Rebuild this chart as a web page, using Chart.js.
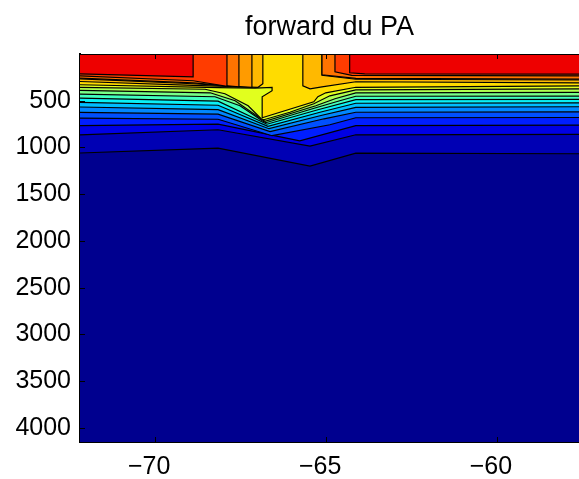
<!DOCTYPE html>
<html><head><meta charset="utf-8">
<script src="https://cdn.jsdelivr.net/npm/chart.js@4/dist/chart.umd.min.js"></script>
<style>html,body{margin:0;padding:0;background:#fff;}</style>
</head><body>
<canvas id="c" width="579" height="479"></canvas>
<script>
// ---- data (longitude, depth in m) ----
const chartTitle = 'forward du PA';
const lonRange = [-72.2, -57.6];
const depthRange = [0, 4150];
const lonTicks = [-70, -65, -60];
const depthTicks = [500, 1000, 1500, 2000, 2500, 3000, 3500, 4000];

// contour boundaries, shallowest first: [lon, depth]
const c01 = [[-72.2,212],[-68.89,244],[-68.89,0],[-64.31,0],[-64.31,201],[-63.87,212],[-57.6,215]];
const c02 = [[-72.2,233],[-68.89,286],[-67.90,345],[-67.90,0],[-64.74,0],[-64.74,190],[-64.25,228],[-57.6,233]];
const c03 = [[-72.2,258],[-68.89,308],[-67.55,351],[-67.55,0],[-65.12,0],[-65.12,222],[-64.13,260],[-57.6,268]];
const c04 = [[-72.2,267],[-68.89,318],[-67.17,356],[-67.17,0],[-65.12,0],[-65.12,228],[-64.13,270],[-57.6,278]];
const c05 = [[-72.2,294],[-68.89,335],[-66.99,356],[-66.85,318],[-66.85,0],[-65.68,0],[-65.68,340],[-65.47,372],[-65.12,351],[-64.13,297],[-57.6,308]];
const c06 = [[-72.2,329],[-68.16,359],[-67.08,364],[-66.58,356],[-66.58,393],[-66.87,457],[-66.87,682],[-65.36,511],[-65.24,457],[-65.01,415],[-64.13,356],[-57.6,340]];
const c07 = [[-72.2,358],[-68.54,377],[-67.96,425],[-67.28,554],[-66.90,693],[-66.82,703],[-66.06,623],[-65.36,532],[-64.89,447],[-64.13,383],[-57.6,372]];
const c08 = [[-72.2,390],[-68.39,415],[-67.66,500],[-66.99,671],[-66.79,719],[-66.06,639],[-65.30,554],[-64.74,479],[-64.13,415],[-57.6,411]];
const c09 = [[-72.2,429],[-68.25,457],[-67.52,554],[-66.87,714],[-66.76,735],[-65.30,575],[-64.60,500],[-64.13,452],[-57.6,450]];
const c10 = [[-72.2,471],[-68.16,505],[-66.73,751],[-65.24,596],[-64.13,489],[-57.6,486]];
const c11 = [[-72.2,518],[-68.16,548],[-66.70,773],[-65.18,623],[-64.13,527],[-57.6,522]];
const c12 = [[-72.2,567],[-68.16,596],[-66.67,799],[-65.12,655],[-64.13,570],[-57.6,564]];
const c13 = [[-72.2,625],[-68.16,644],[-66.64,831],[-65.06,693],[-64.13,623],[-57.6,618]];
const c14 = [[-72.2,685],[-68.16,698],[-66.58,874],[-64.89,757],[-64.13,682],[-57.6,679]];
const c15 = [[-72.2,767],[-68.16,751],[-65.77,928],[-64.13,767],[-57.6,760]];
const c16 = [[-72.2,864],[-68.16,810],[-65.47,986],[-64.13,864],[-57.6,860]];
const c17 = [[-72.2,1059],[-68.16,1006],[-65.47,1200],[-64.13,1061],[-57.6,1067]];

// colour of the band lying above each boundary (jet colormap)
const bandColors = ['#ee0000','#ff3c00','#ff7300','#ff9b00','#ffb900','#ffdc00','#e1ff1e','#afff50','#78ff87','#41ffbe','#0af0f5','#00beff','#0087ff','#0050ff','#001eff','#0000e4','#0000b4'];
const deepColor = '#00008f';

const contours = [c01,c02,c03,c04,c05,c06,c07,c08,c09,c10,c11,c12,c13,c14,c15,c16,c17];

const datasets = contours.map((pts, i) => ({
  data: pts.map(p => ({x: p[0], y: p[1]})),
  borderColor: '#000',
  borderWidth: 1.2,
  backgroundColor: bandColors[i],
  fill: 'end',
  pointRadius: 0,
  tension: 0
}));

const FONT = 'Liberation Sans, Arial, Helvetica, sans-serif';

const bgPlugin = {
  id: 'bg',
  beforeDatasetsDraw(chart) {
    const {ctx, chartArea: a} = chart;
    ctx.save();
    ctx.fillStyle = deepColor;
    ctx.fillRect(a.left, a.top, a.right - a.left, a.bottom - a.top);
    ctx.restore();
  }
};

const framePlugin = {
  id: 'frame',
  afterDraw(chart) {
    const {ctx, chartArea: a} = chart;
    const xs = chart.scales.x, ys = chart.scales.y;
    ctx.save();
    ctx.strokeStyle = '#000';
    ctx.lineWidth = 1;
    ctx.beginPath();
    ctx.moveTo(a.left, a.top + 0.5); ctx.lineTo(a.right, a.top + 0.5);
    lonTicks.forEach(v => {
      const px = Math.round(xs.getPixelForValue(v)) + 0.5;
      ctx.moveTo(px, a.bottom); ctx.lineTo(px, a.bottom - 5);
      ctx.moveTo(px, a.top); ctx.lineTo(px, a.top + 5);
    });
    depthTicks.forEach(v => {
      const py = Math.round(ys.getPixelForValue(v)) + 0.5;
      ctx.moveTo(a.left, py); ctx.lineTo(a.left + 5, py);
    });
    ctx.stroke();
    ctx.fillStyle = '#000';
    ctx.font = '27px ' + FONT;
    ctx.textAlign = 'center';
    ctx.textBaseline = 'middle';
    ctx.fillText(chartTitle, (a.left + a.right) / 2, 28);
    ctx.restore();
  }
};

new Chart(document.getElementById('c'), {
  type: 'line',
  data: {datasets},
  options: {
    responsive: false,
    animation: false,
    devicePixelRatio: 1,
    layout: {padding: {top: 54, right: 0, left: 0, bottom: 0}},
    plugins: {legend: {display: false}, tooltip: {enabled: false}, title: {display: false}},
    scales: {
      x: {
        type: 'linear', min: lonRange[0], max: lonRange[1],
        grid: {display: false, drawTicks: false},
        border: {display: true, color: '#000', width: 2},
        afterBuildTicks: s => { s.ticks = lonTicks.map(v => ({value: v})); },
        afterFit: s => { s.height = 37; },
        ticks: {
          color: '#000', padding: 10, maxRotation: 0, labelOffset: -6,
          font: {size: 25, family: FONT},
          callback: v => (v < 0 ? '\u2212' : '') + Math.abs(v)
        }
      },
      y: {
        type: 'linear', reverse: true, min: depthRange[0], max: depthRange[1],
        grid: {display: false, drawTicks: false},
        border: {display: true, color: '#000', width: 2},
        afterBuildTicks: s => { s.ticks = depthTicks.map(v => ({value: v})); },
        afterFit: s => { s.width = 80; },
        ticks: {
          color: '#000', padding: 9,
          font: {size: 25, family: FONT},
          callback: v => String(v)
        }
      }
    }
  },
  plugins: [bgPlugin, framePlugin]
});
</script>
</body></html>
